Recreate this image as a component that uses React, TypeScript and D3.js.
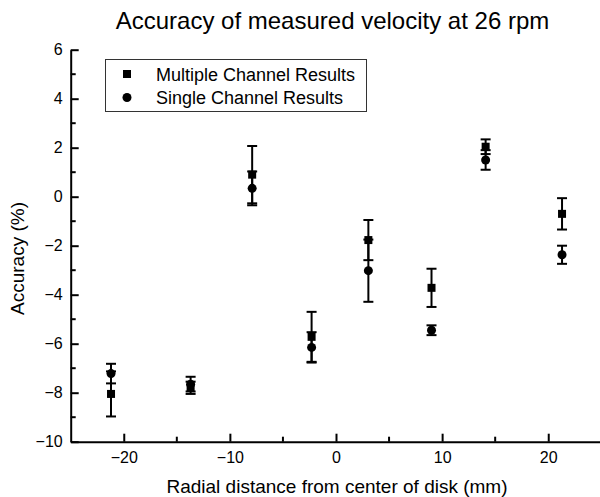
import React, { useEffect, useRef } from 'react';
import * as d3 from 'd3';

// radial positions (mm)
const positions = [-21.2, -13.7, -7.9, -2.3, 3.05, 9.0, 14.1, 21.3];
// Multiple channel results: value and error (%)
const multipleValues = [-8.05, -7.8, 0.9, -5.72, -1.77, -3.72, 2.04, -0.7];
const multipleErrors = [0.92, 0.25, 1.17, 1.02, 0.82, 0.78, 0.3, 0.64];
// Single channel results
const singleValues = [-7.22, -7.65, 0.34, -6.15, -3.02, -5.45, 1.5, -2.37];
const singleErrors = [0.4, 0.3, 0.69, 0.62, 1.27, 0.2, 0.4, 0.37];

const xTicks = [-20, -10, 0, 10, 20];
const xMinorTicks = [-15, -5, 5, 15];
const yTicks = [-10, -8, -6, -4, -2, 0, 2, 4, 6];
const yMinorTicks = [-9, -7, -5, -3, -1, 1, 3, 5];

const legendLabels = ['Multiple Channel Results', 'Single Channel Results'];

const W = 600;
const H = 497;
const FONT = 'Liberation Sans, Arial, sans-serif';

const App = () => {
  const ref = useRef<SVGSVGElement | null>(null);

  useEffect(() => {
    if (!ref.current) return;
    const svg = d3.select(ref.current);
    svg.selectAll('*').remove();

    const x = d3.scaleLinear().domain([-25, 25]).range([70.7, 601.3]);
    const y = d3.scaleLinear().domain([-10, 6]).range([441.7, 49.7]);

    svg.append('rect').attr('width', W).attr('height', H).attr('fill', '#fff');

    // --- Axes (ticks point inward) ---
    const xAxis = svg.append('g')
      .attr('transform', `translate(0,${y(-10)})`)
      .call(d3.axisBottom(x).tickValues(xTicks).tickSizeInner(-8).tickSizeOuter(0).tickPadding(10).tickFormat(d3.format('d')));
    xAxis.select('.domain').attr('stroke-width', 2);
    xAxis.selectAll('.tick line').attr('stroke-width', 2);
    xAxis.selectAll('text').attr('font-size', 16).attr('font-family', FONT).attr('fill', '#000');
    xAxis.selectAll('.minor')
      .data(xMinorTicks).enter().append('line')
      .attr('x1', (d) => x(d)).attr('x2', (d) => x(d))
      .attr('y1', 0).attr('y2', -5)
      .attr('stroke', '#000').attr('stroke-width', 2);

    const yAxis = svg.append('g')
      .attr('transform', `translate(${x(-25)},0)`)
      .call(d3.axisLeft(y).tickValues(yTicks).tickSizeInner(-8).tickSizeOuter(0).tickPadding(8).tickFormat(d3.format('d')));
    yAxis.select('.domain').attr('stroke-width', 2);
    yAxis.selectAll('.tick line').attr('stroke-width', 2);
    yAxis.selectAll('text').attr('font-size', 16).attr('font-family', FONT).attr('fill', '#000');
    yAxis.selectAll('.minor')
      .data(yMinorTicks).enter().append('line')
      .attr('y1', (d) => y(d)).attr('y2', (d) => y(d))
      .attr('x1', 0).attr('x2', 5)
      .attr('stroke', '#000').attr('stroke-width', 2);

    // --- Titles ---
    svg.append('text')
      .attr('x', 332.5).attr('y', 29)
      .attr('text-anchor', 'middle')
      .attr('font-size', 24).attr('font-family', FONT)
      .text('Accuracy of measured velocity at 26 rpm');

    svg.append('text')
      .attr('x', 337).attr('y', 493)
      .attr('text-anchor', 'middle')
      .attr('font-size', 19).attr('font-family', FONT)
      .text('Radial distance from center of disk (mm)');

    svg.append('text')
      .attr('transform', `translate(24,258.5) rotate(-90)`)
      .attr('text-anchor', 'middle')
      .attr('font-size', 19).attr('font-family', FONT)
      .text('Accuracy (%)');

    // --- Error bars + markers ---
    const drawErrors = (vals: number[], errs: number[]) => {
      const g = svg.append('g').attr('stroke', '#000').attr('stroke-width', 2);
      positions.forEach((p, i) => {
        const cx = x(p);
        const top = y(vals[i] + errs[i]);
        const bot = y(vals[i] - errs[i]);
        g.append('line').attr('x1', cx).attr('x2', cx).attr('y1', top).attr('y2', bot);
        g.append('line').attr('x1', cx - 5).attr('x2', cx + 5).attr('y1', top).attr('y2', top);
        g.append('line').attr('x1', cx - 5).attr('x2', cx + 5).attr('y1', bot).attr('y2', bot);
      });
    };
    drawErrors(multipleValues, multipleErrors);
    drawErrors(singleValues, singleErrors);

    svg.append('g').selectAll('rect')
      .data(positions).enter().append('rect')
      .attr('x', (d) => x(d) - 4)
      .attr('y', (d, i) => y(multipleValues[i]) - 4)
      .attr('width', 8).attr('height', 8)
      .attr('fill', '#000');

    svg.append('g').selectAll('circle')
      .data(positions).enter().append('circle')
      .attr('cx', (d) => x(d))
      .attr('cy', (d, i) => y(singleValues[i]))
      .attr('r', 4.5)
      .attr('fill', '#000');

    // --- Legend ---
    const legend = svg.append('g');
    legend.append('rect')
      .attr('x', 105.5).attr('y', 59.5).attr('width', 261).attr('height', 52)
      .attr('fill', '#fff').attr('stroke', '#333').attr('stroke-width', 1);
    legend.append('rect').attr('x', 123).attr('y', 70).attr('width', 8).attr('height', 8).attr('fill', '#000');
    legend.append('circle').attr('cx', 127).attr('cy', 97.5).attr('r', 4.5).attr('fill', '#000');
    legendLabels.forEach((label, i) => {
      legend.append('text')
        .attr('x', 156).attr('y', 80.5 + i * 23.5)
        .attr('font-size', 18).attr('font-family', FONT)
        .text(label);
    });
  }, []);

  return (
    <svg
      ref={ref}
      width={W}
      height={H}
      style={{ position: 'absolute', left: 0, top: 0, display: 'block' }}
    />
  );
};

export default App;
